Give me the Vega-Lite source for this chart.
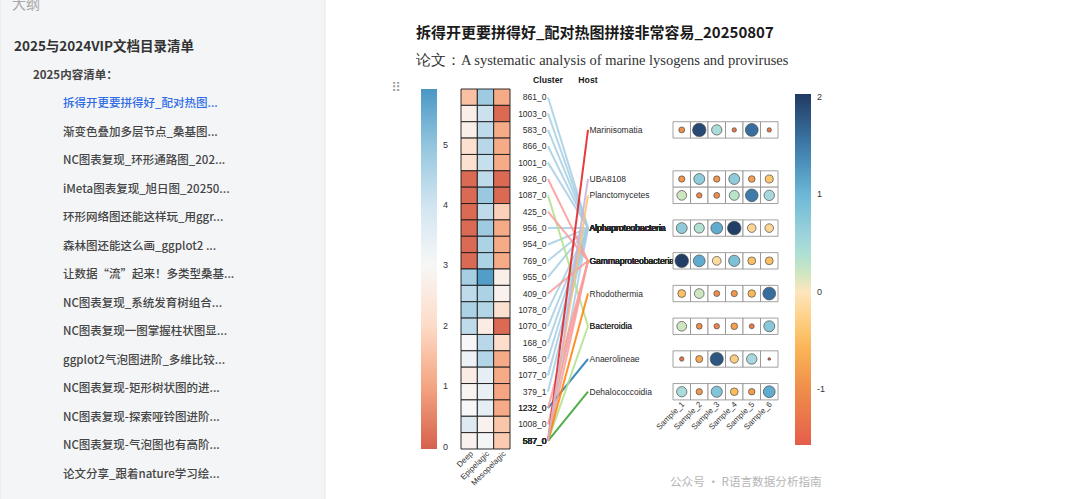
{
"$schema":"https://vega.github.io/schema/vega-lite/v6.json",
"width":1080,"height":499,
"autosize":{"type":"fit","contains":"padding"},
"padding":0,
"background":"#ffffff",
"config":{"view":{"stroke":null},"text":{"font":"Liberation Sans"},"legend":{"labelFont":"Liberation Sans"}},
"datasets":{
"panel":[{"panel":"outline"}],
"outline":[
{"text":"大纲","level":0,"slot":0,"active":"no"},
{"text":"2025与2024VIP文档目录清单","level":1,"slot":1,"active":"no"},
{"text":"2025内容清单：","level":2,"slot":2,"active":"no"},
{"text":"拆得开更要拼得好_配对热图...","level":3,"slot":3,"active":"yes"},
{"text":"渐变色叠加多层节点_桑基图...","level":3,"slot":4,"active":"no"},
{"text":"NC图表复现_环形通路图_202...","level":3,"slot":5,"active":"no"},
{"text":"iMeta图表复现_旭日图_20250...","level":3,"slot":6,"active":"no"},
{"text":"环形网络图还能这样玩_用ggr...","level":3,"slot":7,"active":"no"},
{"text":"森林图还能这么画_ggplot2  ...","level":3,"slot":8,"active":"no"},
{"text":"让数据“流”起来！多类型桑基...","level":3,"slot":9,"active":"no"},
{"text":"NC图表复现_系统发育树组合...","level":3,"slot":10,"active":"no"},
{"text":"NC图表复现一图掌握柱状图显...","level":3,"slot":11,"active":"no"},
{"text":"ggplot2气泡图进阶_多维比较...","level":3,"slot":12,"active":"no"},
{"text":"NC图表复现-矩形树状图的进...","level":3,"slot":13,"active":"no"},
{"text":"NC图表复现-探索哑铃图进阶...","level":3,"slot":14,"active":"no"},
{"text":"NC图表复现-气泡图也有高阶...","level":3,"slot":15,"active":"no"},
{"text":"论文分享_跟着nature学习绘...","level":3,"slot":16,"active":"no"}
],
"header":[
{"role":"handle","text":"⠿"},
{"role":"title","text":"拆得开更要拼得好_配对热图拼接非常容易_20250807"},
{"role":"subtitle","text":"论文：A systematic analysis of marine lysogens and proviruses"}
],
"watermark":[{"source":"公众号 · R语言数据分析指南"}],
"clusters":[
{"cluster":"861_0","row":0},{"cluster":"1003_0","row":1},{"cluster":"583_0","row":2},{"cluster":"866_0","row":3},
{"cluster":"1001_0","row":4},{"cluster":"926_0","row":5},{"cluster":"1087_0","row":6},{"cluster":"425_0","row":7},
{"cluster":"956_0","row":8},{"cluster":"954_0","row":9},{"cluster":"769_0","row":10},{"cluster":"955_0","row":11},
{"cluster":"409_0","row":12},{"cluster":"1078_0","row":13},{"cluster":"1070_0","row":14},{"cluster":"168_0","row":15},
{"cluster":"586_0","row":16},{"cluster":"1077_0","row":17},{"cluster":"379_1","row":18},{"cluster":"1232_0","row":19},
{"cluster":"1008_0","row":20},{"cluster":"587_0","row":21}
],
"hosts":[
{"host":"Marinisomatia","row":2},{"host":"UBA8108","row":5},{"host":"Planctomycetes","row":6},
{"host":"Alphaproteobacteria","row":8},{"host":"Gammaproteobacteria","row":10},{"host":"Rhodothermia","row":12},
{"host":"Bacteroidia","row":14},{"host":"Anaerolineae","row":16},{"host":"Dehalococcoidia","row":18}
],
"sides":[{"side":"Cluster"},{"side":"Host"}],
"heat":[
{"cluster":"861_0","zone":"Deep","abundance":1.5},{"cluster":"861_0","zone":"Epipelagic","abundance":4.8},{"cluster":"861_0","zone":"Mesopelagic","abundance":1.1},
{"cluster":"1003_0","zone":"Deep","abundance":2.7},{"cluster":"1003_0","zone":"Epipelagic","abundance":4.1},{"cluster":"1003_0","zone":"Mesopelagic","abundance":0.1},
{"cluster":"583_0","zone":"Deep","abundance":2.7},{"cluster":"583_0","zone":"Epipelagic","abundance":4.3},{"cluster":"583_0","zone":"Mesopelagic","abundance":1.1},
{"cluster":"866_0","zone":"Deep","abundance":2.2},{"cluster":"866_0","zone":"Epipelagic","abundance":4.4},{"cluster":"866_0","zone":"Mesopelagic","abundance":1.1},
{"cluster":"1001_0","zone":"Deep","abundance":2.2},{"cluster":"1001_0","zone":"Epipelagic","abundance":4.2},{"cluster":"1001_0","zone":"Mesopelagic","abundance":1.1},
{"cluster":"926_0","zone":"Deep","abundance":0.1},{"cluster":"926_0","zone":"Epipelagic","abundance":4.3},{"cluster":"926_0","zone":"Mesopelagic","abundance":0.1},
{"cluster":"1087_0","zone":"Deep","abundance":0.1},{"cluster":"1087_0","zone":"Epipelagic","abundance":4.9},{"cluster":"1087_0","zone":"Mesopelagic","abundance":0.1},
{"cluster":"425_0","zone":"Deep","abundance":0.1},{"cluster":"425_0","zone":"Epipelagic","abundance":4.3},{"cluster":"425_0","zone":"Mesopelagic","abundance":1.8},
{"cluster":"956_0","zone":"Deep","abundance":0.1},{"cluster":"956_0","zone":"Epipelagic","abundance":4.8},{"cluster":"956_0","zone":"Mesopelagic","abundance":1.1},
{"cluster":"954_0","zone":"Deep","abundance":0.1},{"cluster":"954_0","zone":"Epipelagic","abundance":4.6},{"cluster":"954_0","zone":"Mesopelagic","abundance":1.1},
{"cluster":"769_0","zone":"Deep","abundance":0.1},{"cluster":"769_0","zone":"Epipelagic","abundance":4.6},{"cluster":"769_0","zone":"Mesopelagic","abundance":1.1},
{"cluster":"955_0","zone":"Deep","abundance":4.7},{"cluster":"955_0","zone":"Epipelagic","abundance":5.8},{"cluster":"955_0","zone":"Mesopelagic","abundance":2.7},
{"cluster":"409_0","zone":"Deep","abundance":4.3},{"cluster":"409_0","zone":"Epipelagic","abundance":4.6},{"cluster":"409_0","zone":"Mesopelagic","abundance":2.8},
{"cluster":"1078_0","zone":"Deep","abundance":4.6},{"cluster":"1078_0","zone":"Epipelagic","abundance":4.5},{"cluster":"1078_0","zone":"Mesopelagic","abundance":2.2},
{"cluster":"1070_0","zone":"Deep","abundance":4.3},{"cluster":"1070_0","zone":"Epipelagic","abundance":2.6},{"cluster":"1070_0","zone":"Mesopelagic","abundance":0.1},
{"cluster":"168_0","zone":"Deep","abundance":3.0},{"cluster":"168_0","zone":"Epipelagic","abundance":4.4},{"cluster":"168_0","zone":"Mesopelagic","abundance":2.1},
{"cluster":"586_0","zone":"Deep","abundance":3.3},{"cluster":"586_0","zone":"Epipelagic","abundance":4.5},{"cluster":"586_0","zone":"Mesopelagic","abundance":1.1},
{"cluster":"1077_0","zone":"Deep","abundance":2.6},{"cluster":"1077_0","zone":"Epipelagic","abundance":3.5},{"cluster":"1077_0","zone":"Mesopelagic","abundance":1.1},
{"cluster":"379_1","zone":"Deep","abundance":2.9},{"cluster":"379_1","zone":"Epipelagic","abundance":3.4},{"cluster":"379_1","zone":"Mesopelagic","abundance":1.0},
{"cluster":"1232_0","zone":"Deep","abundance":3.0},{"cluster":"1232_0","zone":"Epipelagic","abundance":3.5},{"cluster":"1232_0","zone":"Mesopelagic","abundance":1.1},
{"cluster":"1008_0","zone":"Deep","abundance":3.7},{"cluster":"1008_0","zone":"Epipelagic","abundance":2.8},{"cluster":"1008_0","zone":"Mesopelagic","abundance":1.6},
{"cluster":"587_0","zone":"Deep","abundance":2.8},{"cluster":"587_0","zone":"Epipelagic","abundance":3.1},{"cluster":"587_0","zone":"Mesopelagic","abundance":1.7}
],
"links":[
{"cluster":"861_0","host":"Alphaproteobacteria"},{"cluster":"1003_0","host":"Alphaproteobacteria"},{"cluster":"583_0","host":"Alphaproteobacteria"},
{"cluster":"866_0","host":"Alphaproteobacteria"},{"cluster":"1001_0","host":"Alphaproteobacteria"},{"cluster":"956_0","host":"Alphaproteobacteria"},
{"cluster":"954_0","host":"Alphaproteobacteria"},{"cluster":"769_0","host":"Alphaproteobacteria"},{"cluster":"955_0","host":"Alphaproteobacteria"},
{"cluster":"1078_0","host":"Alphaproteobacteria"},{"cluster":"1070_0","host":"Alphaproteobacteria"},{"cluster":"168_0","host":"Alphaproteobacteria"},
{"cluster":"586_0","host":"Alphaproteobacteria"},{"cluster":"1077_0","host":"Alphaproteobacteria"},{"cluster":"379_1","host":"Alphaproteobacteria"},
{"cluster":"587_0","host":"Alphaproteobacteria"},
{"cluster":"1232_0","host":"Anaerolineae"},
{"cluster":"1087_0","host":"Bacteroidia"},{"cluster":"587_0","host":"Bacteroidia"},
{"cluster":"587_0","host":"Dehalococcoidia"},
{"cluster":"926_0","host":"Gammaproteobacteria"},{"cluster":"425_0","host":"Gammaproteobacteria"},{"cluster":"409_0","host":"Gammaproteobacteria"},
{"cluster":"1232_0","host":"Gammaproteobacteria"},{"cluster":"1008_0","host":"Gammaproteobacteria"},{"cluster":"587_0","host":"Gammaproteobacteria"},
{"cluster":"587_0","host":"Marinisomatia"},
{"cluster":"587_0","host":"Planctomycetes"},
{"cluster":"587_0","host":"Rhodothermia"},
{"cluster":"587_0","host":"UBA8108"}
],
"bubbles":[
{"host":"Marinisomatia","sample":"Sample_1","value":-1.0},{"host":"Marinisomatia","sample":"Sample_2","value":1.9},{"host":"Marinisomatia","sample":"Sample_3","value":0.45},{"host":"Marinisomatia","sample":"Sample_4","value":-1.3},{"host":"Marinisomatia","sample":"Sample_5","value":1.6},{"host":"Marinisomatia","sample":"Sample_6","value":-1.3},
{"host":"UBA8108","sample":"Sample_1","value":-0.9},{"host":"UBA8108","sample":"Sample_2","value":0.7},{"host":"UBA8108","sample":"Sample_3","value":-0.9},{"host":"UBA8108","sample":"Sample_4","value":0.7},{"host":"UBA8108","sample":"Sample_5","value":-0.8},{"host":"UBA8108","sample":"Sample_6","value":-0.4},
{"host":"Planctomycetes","sample":"Sample_1","value":0.2},{"host":"Planctomycetes","sample":"Sample_2","value":-1.1},{"host":"Planctomycetes","sample":"Sample_3","value":-1.0},{"host":"Planctomycetes","sample":"Sample_4","value":0.3},{"host":"Planctomycetes","sample":"Sample_5","value":1.5},{"host":"Planctomycetes","sample":"Sample_6","value":0.5},
{"host":"Alphaproteobacteria","sample":"Sample_1","value":0.7},{"host":"Alphaproteobacteria","sample":"Sample_2","value":0.35},{"host":"Alphaproteobacteria","sample":"Sample_3","value":1.1},{"host":"Alphaproteobacteria","sample":"Sample_4","value":2.0},{"host":"Alphaproteobacteria","sample":"Sample_5","value":-0.2},{"host":"Alphaproteobacteria","sample":"Sample_6","value":-0.2},
{"host":"Gammaproteobacteria","sample":"Sample_1","value":2.0},{"host":"Gammaproteobacteria","sample":"Sample_2","value":1.1},{"host":"Gammaproteobacteria","sample":"Sample_3","value":-0.15},{"host":"Gammaproteobacteria","sample":"Sample_4","value":0.85},{"host":"Gammaproteobacteria","sample":"Sample_5","value":-0.45},{"host":"Gammaproteobacteria","sample":"Sample_6","value":-0.45},
{"host":"Rhodothermia","sample":"Sample_1","value":-0.45},{"host":"Rhodothermia","sample":"Sample_2","value":0.2},{"host":"Rhodothermia","sample":"Sample_3","value":-1.0},{"host":"Rhodothermia","sample":"Sample_4","value":-0.9},{"host":"Rhodothermia","sample":"Sample_5","value":-0.55},{"host":"Rhodothermia","sample":"Sample_6","value":1.6},
{"host":"Bacteroidia","sample":"Sample_1","value":0.2},{"host":"Bacteroidia","sample":"Sample_2","value":-1.0},{"host":"Bacteroidia","sample":"Sample_3","value":-1.1},{"host":"Bacteroidia","sample":"Sample_4","value":-0.8},{"host":"Bacteroidia","sample":"Sample_5","value":-1.2},{"host":"Bacteroidia","sample":"Sample_6","value":0.75},
{"host":"Anaerolineae","sample":"Sample_1","value":-1.3},{"host":"Anaerolineae","sample":"Sample_2","value":-0.7},{"host":"Anaerolineae","sample":"Sample_3","value":1.8},{"host":"Anaerolineae","sample":"Sample_4","value":-0.3},{"host":"Anaerolineae","sample":"Sample_5","value":0.5},{"host":"Anaerolineae","sample":"Sample_6","value":-1.55},
{"host":"Dehalococcoidia","sample":"Sample_1","value":0.45},{"host":"Dehalococcoidia","sample":"Sample_2","value":-0.9},{"host":"Dehalococcoidia","sample":"Sample_3","value":0.8},{"host":"Dehalococcoidia","sample":"Sample_4","value":-0.5},{"host":"Dehalococcoidia","sample":"Sample_5","value":-0.85},{"host":"Dehalococcoidia","sample":"Sample_6","value":1.1}
]
},
"layer":[
{"data":{"name":"panel"},
 "mark":{"type":"rect","fill":"#f4f5f7","stroke":"#e4e5e8","strokeWidth":1,"clip":true},
 "encoding":{
  "x":{"field":"panel","type":"nominal","scale":{"type":"band","range":[0,325],"paddingInner":0,"paddingOuter":0},"axis":null},
  "y":{"field":"panel","type":"nominal","scale":{"type":"band","range":[-2,501],"paddingInner":0,"paddingOuter":0},"axis":null}}},
{"data":{"name":"outline"},
 "encoding":{
  "x":{"field":"level","type":"quantitative","scale":{"domain":[0,1,2,3],"range":[12,14,33,63]},"axis":null},
  "y":{"field":"slot","type":"quantitative","scale":{"domain":[0,1,16],"range":[5,47,475]},"axis":null},
  "text":{"field":"text"}},
 "layer":[
  {"transform":[{"filter":"datum.level==0"}],"mark":{"type":"text","align":"left","baseline":"middle","font":"Noto Sans CJK SC","fontSize":14,"color":"#a9a9a9","clip":true}},
  {"transform":[{"filter":"datum.level==1"}],"mark":{"type":"text","align":"left","baseline":"middle","font":"Noto Sans CJK SC","fontSize":13.5,"fontWeight":"bold","color":"#333333"}},
  {"transform":[{"filter":"datum.level==2"}],"mark":{"type":"text","align":"left","baseline":"middle","font":"Noto Sans CJK SC","fontSize":11.5,"fontWeight":"bold","color":"#444444"}},
  {"transform":[{"filter":"datum.level==3"}],"mark":{"type":"text","align":"left","baseline":"middle","font":"Noto Sans CJK SC","fontSize":11.5,"fontWeight":500},
   "encoding":{"color":{"field":"active","type":"nominal","scale":{"domain":["yes","no"],"range":["#2f6ce5","#454545"]},"legend":null}}}
 ]},
{"data":{"name":"header"},
 "encoding":{
  "x":{"field":"role","type":"nominal","scale":{"type":"point","domain":["handle","title","subtitle"],"range":[416,416],"padding":0},"axis":null},
  "y":{"field":"role","type":"nominal","scale":{"type":"point","domain":["title","subtitle","handle"],"range":[33,88],"padding":0},"axis":null},
  "text":{"field":"text"}},
 "layer":[
  {"transform":[{"filter":"datum.role=='title'"}],"mark":{"type":"text","align":"left","baseline":"middle","font":"Noto Sans CJK SC","fontSize":15,"fontWeight":"bold","color":"#1a1a1a"}},
  {"transform":[{"filter":"datum.role=='subtitle'"}],"mark":{"type":"text","align":"left","baseline":"middle","font":"Liberation Serif","fontSize":14.5,"color":"#333333"}},
  {"transform":[{"filter":"datum.role=='handle'"}],"mark":{"type":"text","align":"center","baseline":"middle","font":"DejaVu Sans","fontSize":13,"color":"#9a9a9a","dx":-20}}
 ]},
{"data":{"name":"watermark"},
 "mark":{"type":"text","align":"left","baseline":"middle","font":"Noto Sans CJK SC","fontSize":11.6,"color":"#b5b5b5"},
 "encoding":{
  "x":{"field":"source","type":"nominal","scale":{"type":"point","range":[670,670],"padding":0},"axis":null},
  "y":{"field":"source","type":"nominal","scale":{"type":"point","range":[483,483],"padding":0},"axis":null},
  "text":{"field":"source"}}},
{"data":{"name":"heat"},
 "encoding":{
  "x":{"field":"zone","type":"nominal","scale":{"type":"band","domain":["Deep","Epipelagic","Mesopelagic"],"range":[461,510],"paddingInner":0,"paddingOuter":0},"axis":null},
  "y":{"field":"cluster","type":"nominal","scale":{"type":"band","domain":["861_0","1003_0","583_0","866_0","1001_0","926_0","1087_0","425_0","956_0","954_0","769_0","955_0","409_0","1078_0","1070_0","168_0","586_0","1077_0","379_1","1232_0","1008_0","587_0"],"range":[89,449],"paddingInner":0,"paddingOuter":0},"axis":null}},
 "layer":[
  {"mark":{"type":"rect","stroke":"#1a1a1a","strokeWidth":0.9},
   "encoding":{"color":{"field":"abundance","type":"quantitative",
     "scale":{"domain":[-0.04,1,2,3,4,5,5.92],"range":["#d6604d","#f4a582","#fddbc7","#f7f7f7","#d1e5f0","#92c5de","#4997c6"]},
     "legend":{"orient":"none","legendX":421,"legendY":89,"direction":"vertical","gradientLength":360,"gradientThickness":16,"gradientStrokeWidth":0,"title":null,"values":[0,1,2,3,4,5],"labelExpr":"'' + datum.value","labelFontSize":9,"labelColor":"#333333","labelOffset":6,"padding":0}}}},
  {"transform":[{"filter":"datum.cluster=='587_0'"}],
   "mark":{"type":"text","angle":315,"align":"right","baseline":"middle","dx":-6.4,"dy":10.6,"fontSize":8,"color":"#333333"},
   "encoding":{"text":{"field":"zone"}}}
 ]},
{"layer":[
  {"data":{"name":"links"},
   "transform":[
    {"lookup":"cluster","from":{"data":{"name":"clusters"},"key":"cluster","fields":["row"]},"as":["Cluster"]},
    {"lookup":"host","from":{"data":{"name":"hosts"},"key":"host","fields":["row"]},"as":["Host"]},
    {"fold":["Cluster","Host"],"as":["side","pos"]}],
   "mark":{"type":"line","strokeWidth":2,"opacity":0.85},
   "encoding":{
    "x":{"field":"side","type":"nominal","scale":{"type":"point","domain":["Cluster","Host"],"range":[548,588],"padding":0},"axis":null},
    "y":{"field":"pos","type":"quantitative","scale":{"domain":[-0.5,21.5],"range":[89,449]},"axis":null},
    "color":{"field":"host","type":"nominal","scale":{"domain":["Alphaproteobacteria","Anaerolineae","Bacteroidia","Dehalococcoidia","Gammaproteobacteria","Marinisomatia","Planctomycetes","Rhodothermia","UBA8108"],"range":["#a6cee3","#1f78b4","#b2df8a","#33a02c","#fb9a99","#e31a1c","#fdbf6f","#ff7f00","#cab2d6"]},"legend":null},
    "detail":{"field":"cluster"}}},
  {"data":{"name":"links"},
   "transform":[
    {"lookup":"cluster","from":{"data":{"name":"clusters"},"key":"cluster","fields":["row"]},"as":["Cluster"]},
    {"lookup":"host","from":{"data":{"name":"hosts"},"key":"host","fields":["row"]},"as":["Host"]},
    {"fold":["Cluster","Host"],"as":["side","pos"]},
    {"filter":"datum.side=='Cluster'"}],
   "mark":{"type":"text","align":"right","baseline":"middle","dx":-1.5,"fontSize":8.5,"color":"#2b2b2b"},
   "encoding":{
    "x":{"field":"side","type":"nominal","scale":{"type":"point","domain":["Cluster","Host"],"range":[548,588],"padding":0},"axis":null},
    "y":{"field":"pos","type":"quantitative","scale":{"domain":[-0.5,21.5],"range":[89,449]},"axis":null},
    "text":{"field":"cluster"}}},
  {"data":{"name":"links"},
   "transform":[
    {"lookup":"cluster","from":{"data":{"name":"clusters"},"key":"cluster","fields":["row"]},"as":["Cluster"]},
    {"lookup":"host","from":{"data":{"name":"hosts"},"key":"host","fields":["row"]},"as":["Host"]},
    {"fold":["Cluster","Host"],"as":["side","pos"]},
    {"filter":"datum.side=='Host'"}],
   "mark":{"type":"text","align":"left","baseline":"middle","dx":1.5,"fontSize":8.5,"color":"#2b2b2b"},
   "encoding":{
    "x":{"field":"side","type":"nominal","scale":{"type":"point","domain":["Cluster","Host"],"range":[548,588],"padding":0},"axis":null},
    "y":{"field":"pos","type":"quantitative","scale":{"domain":[-0.5,21.5],"range":[89,449]},"axis":null},
    "text":{"field":"host"}}},
  {"data":{"name":"sides"},
   "mark":{"type":"text","align":"center","baseline":"middle","fontSize":8.7,"fontWeight":"bold","color":"#1a1a1a"},
   "encoding":{
    "x":{"field":"side","type":"nominal","scale":{"type":"point","domain":["Cluster","Host"],"range":[548,588],"padding":0},"axis":null},
    "y":{"datum":-1.05,"type":"quantitative","scale":{"domain":[-0.5,21.5],"range":[89,449]},"axis":null},
    "text":{"field":"side"}}}
 ]},
{"data":{"name":"bubbles"},
 "transform":[{"lookup":"host","from":{"data":{"name":"hosts"},"key":"host","fields":["row"]}}],
 "encoding":{
  "x":{"field":"sample","type":"nominal","scale":{"type":"band","domain":["Sample_1","Sample_2","Sample_3","Sample_4","Sample_5","Sample_6"],"range":[673,778],"paddingInner":0,"paddingOuter":0},"axis":null},
  "y":{"field":"row","type":"ordinal","scale":{"type":"band","domain":[0,1,2,3,4,5,6,7,8,9,10,11,12,13,14,15,16,17,18,19,20,21],"range":[89,449],"paddingInner":0,"paddingOuter":0},"axis":null}},
 "layer":[
  {"mark":{"type":"rect","fill":"#ffffff","stroke":"#8a8a8a","strokeWidth":0.8}},
  {"mark":{"type":"circle","stroke":"#4a4a4a","strokeWidth":0.7,"opacity":1},
   "encoding":{
    "color":{"field":"value","type":"quantitative","scale":{"domain":[-1.57,-1,-0.5,0,0.5,1,1.5,2.03],"range":["#e45d4c","#ef8d4b","#fcbd5a","#fde6bd","#a8d8dd","#6cb7d6","#3e7bab","#1f3b62"]},
     "legend":{"orient":"none","legendX":795,"legendY":94,"direction":"vertical","gradientLength":351,"gradientThickness":16,"gradientStrokeWidth":0,"title":null,"values":[-1,0,1,2],"labelExpr":"'' + datum.value","labelFontSize":9,"labelColor":"#333333","labelOffset":6,"padding":0}},
    "size":{"field":"value","type":"quantitative","scale":{"domain":[-1.57,2.03],"range":[6,185]},"legend":null}}},
  {"transform":[{"filter":"datum.host=='Dehalococcoidia'"}],
   "mark":{"type":"text","angle":315,"align":"right","baseline":"middle","dx":-7,"dy":9.5,"fontSize":8,"color":"#333333"},
   "encoding":{"text":{"field":"sample"}}}
 ]}
],
"resolve":{"scale":{"x":"independent","y":"independent","color":"independent","size":"independent"}}
}
